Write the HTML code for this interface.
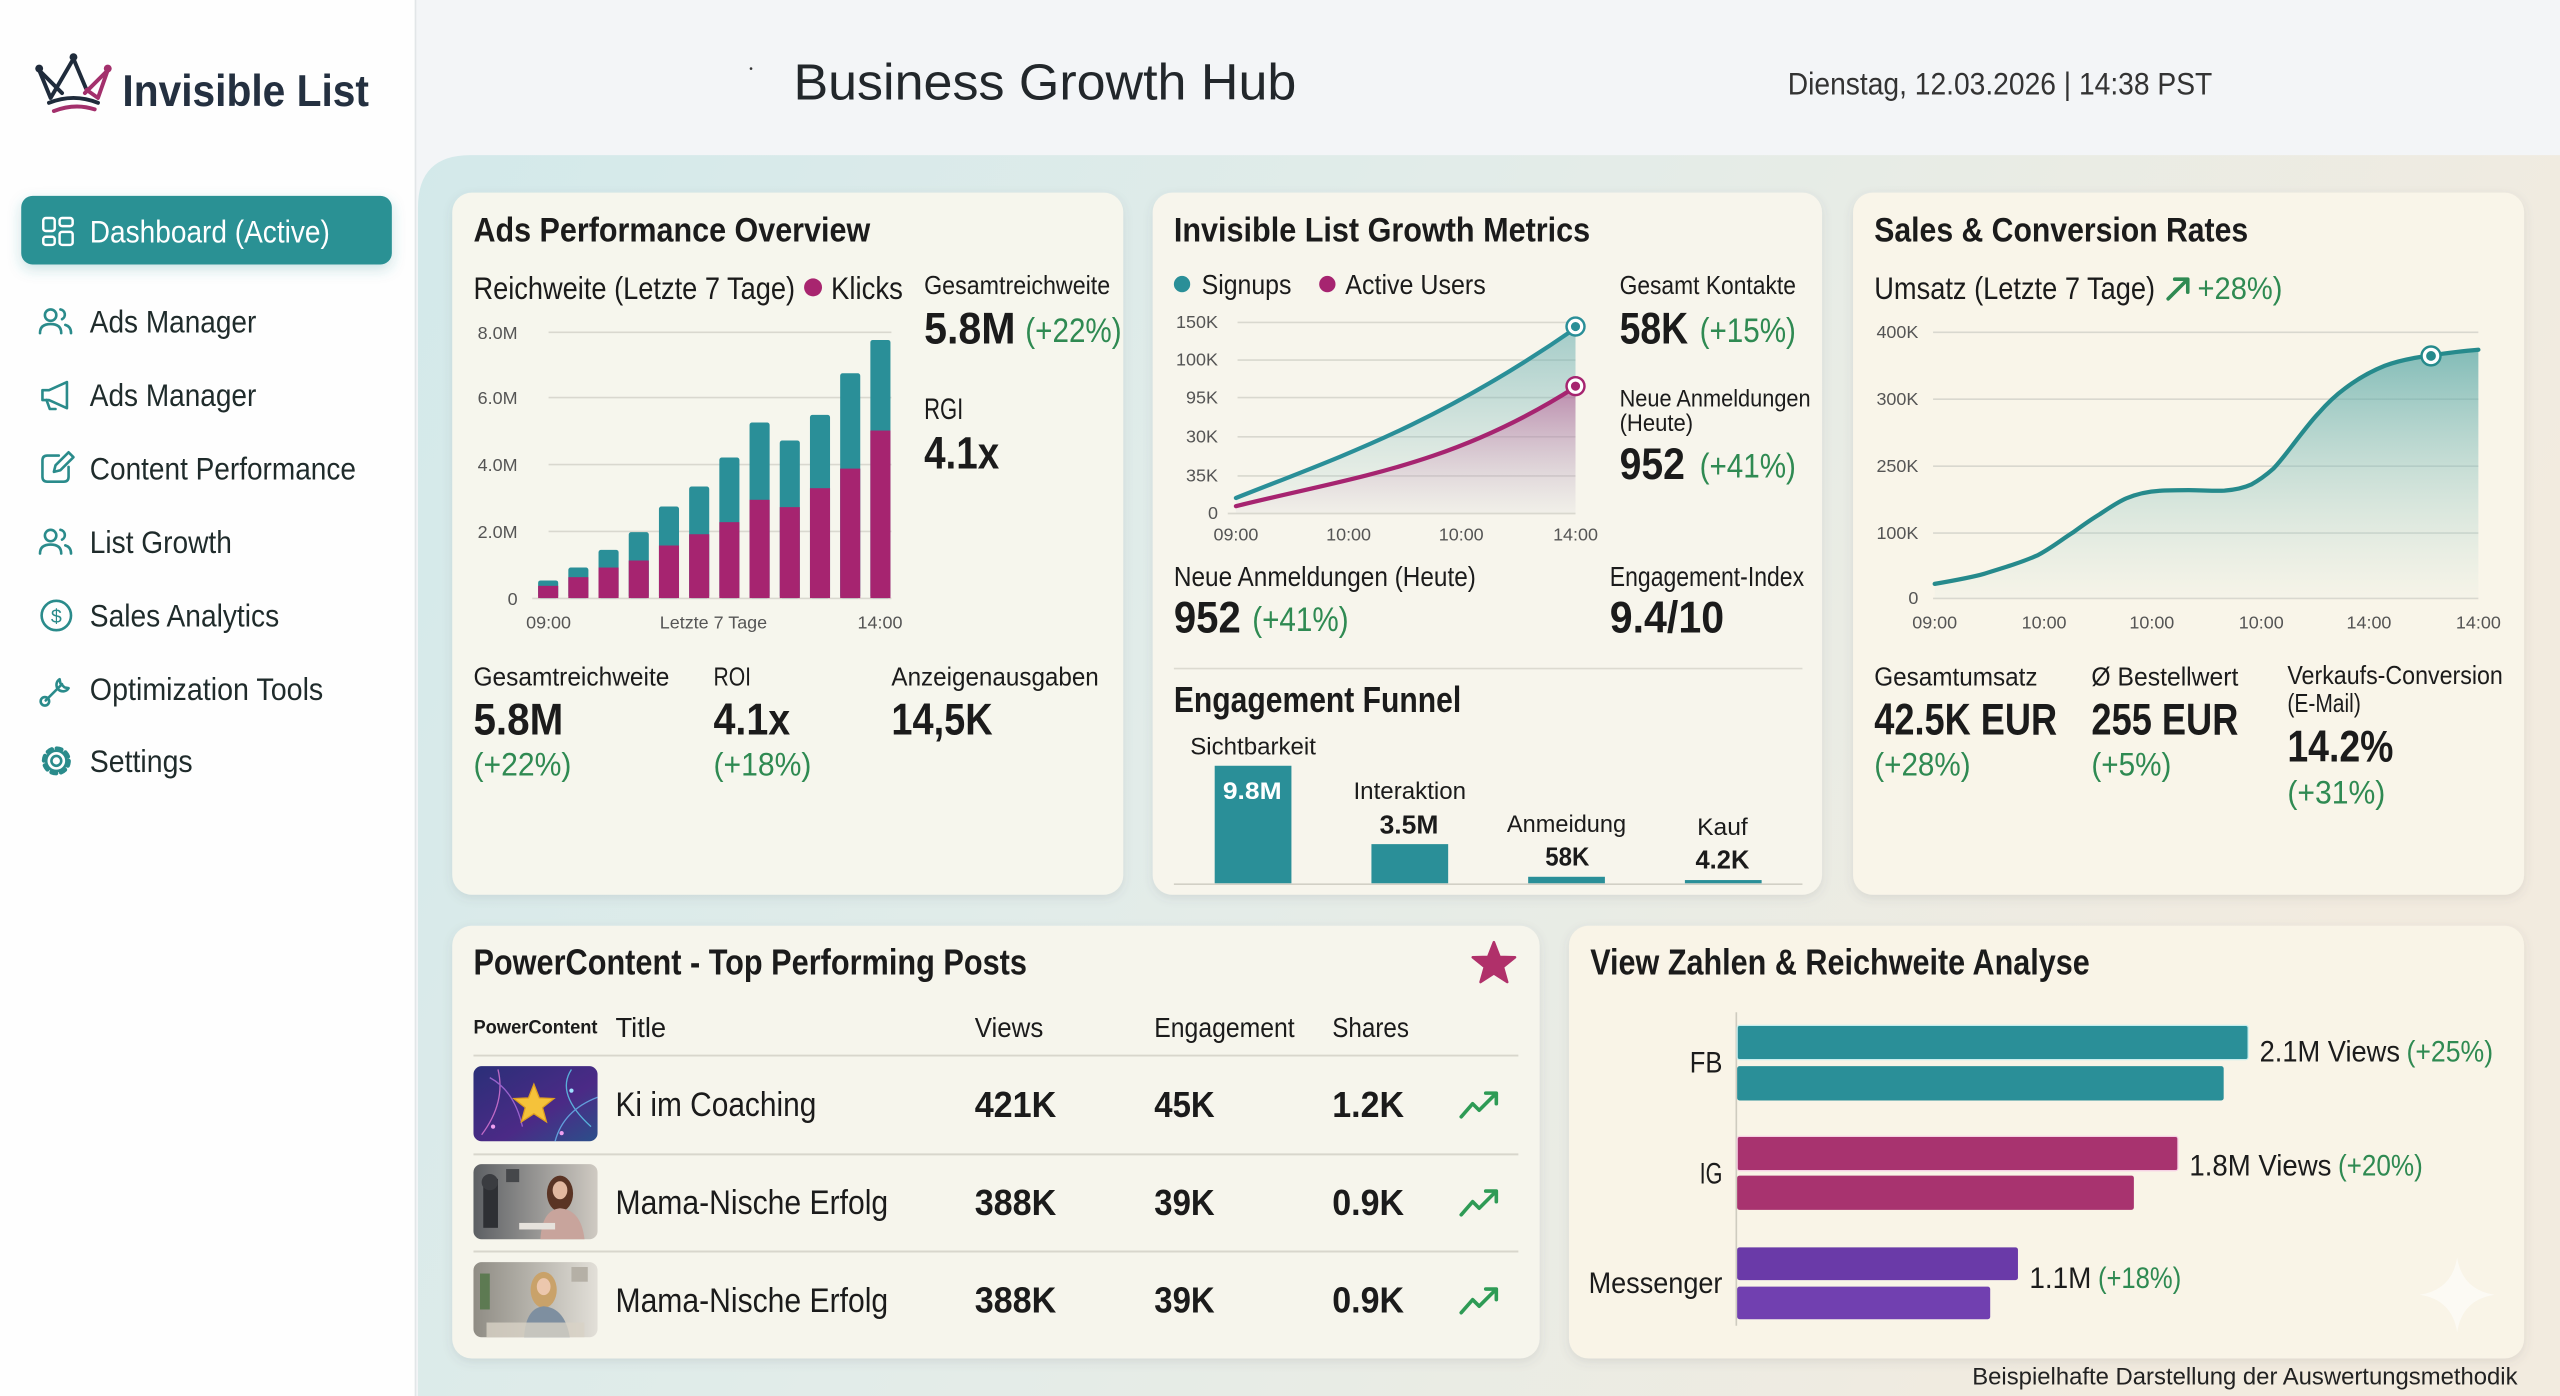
<!DOCTYPE html>
<html><head><meta charset="utf-8">
<style>
html,body{margin:0;padding:0;background:#f3f5f7;}
svg{display:block}
text{font-family:"Liberation Sans",Arial,sans-serif;fill:#1b1b1b}
.b{font-weight:700}
.g{fill:#2f8a52}
.ax{fill:#555;font-size:11px}
.nav{fill:#1f2b2b;font-size:19px}
.ic{fill:none;stroke:#2a8b8b;stroke-width:1.6;stroke-linecap:round;stroke-linejoin:round}
</style></head>
<body>
<svg width="2560" height="1396" viewBox="0 0 1568 855" preserveAspectRatio="none" xmlns="http://www.w3.org/2000/svg">
<defs>
<linearGradient id="panel" x1="0" y1="0" x2="1" y2="0.3">
<stop offset="0" stop-color="#d3e9ea"/><stop offset="0.45" stop-color="#e2ece9"/><stop offset="1" stop-color="#f2ebdf"/>
</linearGradient>
<linearGradient id="tealA" x1="0" y1="0" x2="0" y2="1">
<stop offset="0" stop-color="#5fa9aa" stop-opacity="0.55"/><stop offset="1" stop-color="#8cc4c4" stop-opacity="0.05"/>
</linearGradient>
<linearGradient id="magA" x1="0" y1="0" x2="0" y2="1">
<stop offset="0" stop-color="#b8498a" stop-opacity="0.55"/><stop offset="1" stop-color="#e0a8c8" stop-opacity="0.05"/>
</linearGradient>
<linearGradient id="salesA" x1="0" y1="0" x2="0" y2="1">
<stop offset="0" stop-color="#4fa3a2" stop-opacity="0.7"/><stop offset="1" stop-color="#a9d3cf" stop-opacity="0.05"/>
</linearGradient>
<linearGradient id="th1" x1="0" y1="0" x2="1" y2="1">
<stop offset="0" stop-color="#2a2f78"/><stop offset="0.6" stop-color="#4b2a86"/><stop offset="1" stop-color="#2b4f8a"/>
</linearGradient>
<linearGradient id="th2" x1="0" y1="0" x2="1" y2="0">
<stop offset="0" stop-color="#5c5f63"/><stop offset="1" stop-color="#cfcac2"/>
</linearGradient>
<linearGradient id="th3" x1="0" y1="0" x2="1" y2="0">
<stop offset="0" stop-color="#8f8c84"/><stop offset="1" stop-color="#e2dfd8"/>
</linearGradient>
<filter id="sh" x="-5%" y="-5%" width="110%" height="115%">
<feDropShadow dx="0" dy="2" stdDeviation="3" flood-color="#556" flood-opacity="0.13"/>
</filter>
<filter id="sh2" x="-10%" y="-20%" width="120%" height="160%">
<feDropShadow dx="0" dy="3" stdDeviation="4" flood-color="#2a8f98" flood-opacity="0.25"/>
</filter>
</defs>

<!-- backgrounds -->
<rect x="0" y="0" width="1568" height="855" fill="#f3f5f7"/>
<path d="M256,127 Q256,95 288,95 L1568,95 L1568,855 L256,855 Z" fill="url(#panel)"/>
<rect x="0" y="0" width="254" height="855" fill="#fefefe"/>
<line x1="254.5" y1="0" x2="254.5" y2="855" stroke="#e2e6e8" stroke-width="1"/>

<!-- logo -->
<g fill="none" stroke-linecap="round" stroke-linejoin="round" stroke-width="2.4">
<polyline points="24,43 31,60 45,36" stroke="#1f2b3b"/>
<polyline points="45,36 53,55" stroke="#1f2b3b"/>
<polyline points="53,55 60,60 66,43" stroke="#a3306c"/>
<polyline points="24,43 38,57" stroke="#1f2b3b"/>
<polyline points="52,57 66,43" stroke="#a3306c"/>
<path d="M30,63 Q45,57 60,63" stroke="#1f2b3b"/>
<path d="M33,68 Q46,63 58,67" stroke="#a3306c"/>
</g>
<circle cx="24" cy="42" r="2.4" fill="#1f2b3b"/>
<circle cx="45" cy="35" r="2.4" fill="#1f2b3b"/>
<circle cx="66" cy="42" r="2.4" fill="#a3306c"/>
<text x="75" y="65" font-size="27" class="b" fill="#243040" textLength="151" lengthAdjust="spacingAndGlyphs" style="fill:#243040">Invisible List</text>

<!-- nav -->
<rect x="13" y="120" width="227" height="42" rx="7" fill="#2a9194" filter="url(#sh2)"/>
<g fill="none" stroke="#ffffff" stroke-width="1.5">
<rect x="26.5" y="133.5" width="7" height="8" rx="1.5"/>
<rect x="26.5" y="145" width="7" height="5" rx="1.5"/>
<rect x="36.5" y="133.5" width="8" height="5" rx="1.5"/>
<rect x="36.5" y="142" width="8" height="8" rx="1.5"/>
</g>
<text x="55" y="148.5" font-size="19" textLength="147" lengthAdjust="spacingAndGlyphs" style="fill:#ffffff">Dashboard (Active)</text>

<g class="ic">
<circle cx="31" cy="193" r="3.5"/><path d="M24.5,204 Q24.5,198.5 31,198.5 Q37.5,198.5 37.5,204"/><path d="M37,189.5 A3.2,3.2 0 0 1 38,195.5"/><path d="M40,199 Q43.5,200 43.5,204"/>
<path d="M26,239 L26,245 L30,245 L41,250 L41,234 L30,239 Z"/><path d="M28.5,245 L30.5,250.5 L34,250.5"/>
<path d="M36,279 L29,279 Q26,279 26,282 L26,292 Q26,295 29,295 L39,295 Q42,295 42,292 L42,286"/><path d="M33,289 L34,285 L42,277 L45,280 L37,288 Z"/>
<circle cx="31" cy="328" r="3.5"/><path d="M24.5,339 Q24.5,333.5 31,333.5 Q37.5,333.5 37.5,339"/><path d="M37,324.5 A3.2,3.2 0 0 1 38,330.5"/><path d="M40,334 Q43.5,335 43.5,339"/>
<circle cx="34.5" cy="377" r="9"/>
<path d="M28,429 L38,419"/><path d="M36.5,416 A4,4 0 1 0 42,421.5 L39.5,421 L37,418.5 Z"/><circle cx="27.5" cy="429.5" r="2.6"/>
<circle cx="34.5" cy="466" r="3"/><circle cx="34.5" cy="466" r="7.6" stroke-width="2.6" stroke-dasharray="3 2.97"/><circle cx="34.5" cy="466" r="6.2"/>
</g>
<text x="34.5" y="381.5" font-size="12" text-anchor="middle" style="fill:#2a8b8b">$</text>
<text class="nav" x="55" y="203.8" textLength="102" lengthAdjust="spacingAndGlyphs">Ads Manager</text>
<text class="nav" x="55" y="248.8" textLength="102" lengthAdjust="spacingAndGlyphs">Ads Manager</text>
<text class="nav" x="55" y="293.8" textLength="163" lengthAdjust="spacingAndGlyphs">Content Performance</text>
<text class="nav" x="55" y="338.8" textLength="87" lengthAdjust="spacingAndGlyphs">List Growth</text>
<text class="nav" x="55" y="383.8" textLength="116" lengthAdjust="spacingAndGlyphs">Sales Analytics</text>
<text class="nav" x="55" y="428.8" textLength="143" lengthAdjust="spacingAndGlyphs">Optimization Tools</text>
<text class="nav" x="55" y="472.8" textLength="63" lengthAdjust="spacingAndGlyphs">Settings</text>

<!-- header -->
<circle cx="460" cy="42" r="0.8" fill="#333"/>
<text x="486" y="61" font-size="31" textLength="308" lengthAdjust="spacingAndGlyphs" style="fill:#22272b">Business Growth Hub</text>
<text x="1095" y="58" font-size="19" textLength="260" lengthAdjust="spacingAndGlyphs" style="fill:#333">Dienstag, 12.03.2026 | 14:38 PST</text>

<!-- cards -->
<g filter="url(#sh)">
<rect x="277" y="118" width="411" height="430" rx="12" fill="#f6f6ed"/>
<rect x="706" y="118" width="410" height="430" rx="12" fill="#f7f5ec"/>
<rect x="1135" y="118" width="411" height="430" rx="12" fill="#f9f5e9"/>
<rect x="277" y="567" width="666" height="265" rx="12" fill="#f6f5ec"/>
<rect x="961" y="567" width="585" height="265" rx="12" fill="#f9f4e7"/>
</g>

<!-- ===== Card 1 ===== -->
<text x="290" y="148" font-size="21" class="b" textLength="243" lengthAdjust="spacingAndGlyphs">Ads Performance Overview</text>
<text x="290" y="183" font-size="19" textLength="197" lengthAdjust="spacingAndGlyphs">Reichweite (Letzte 7 Tage)</text>
<circle cx="498" cy="176" r="5.5" fill="#a8256f"/>
<text x="509" y="183" font-size="19" textLength="44" lengthAdjust="spacingAndGlyphs">Klicks</text>
<text x="566" y="180" font-size="16" textLength="114" lengthAdjust="spacingAndGlyphs">Gesamtreichweite</text>
<text x="566" y="210.5" font-size="27" class="b" textLength="56" lengthAdjust="spacingAndGlyphs">5.8M</text>
<text x="628" y="209.5" font-size="21" class="g" textLength="59" lengthAdjust="spacingAndGlyphs">(+22%)</text>
<text x="566" y="256.5" font-size="18" textLength="24" lengthAdjust="spacingAndGlyphs">RGI</text>
<text x="566" y="287" font-size="28" class="b" textLength="46" lengthAdjust="spacingAndGlyphs">4.1x</text>

<g stroke="#d9d8cf" stroke-width="1">
<line x1="336" y1="203.5" x2="546" y2="203.5"/><line x1="336" y1="243.5" x2="546" y2="243.5"/><line x1="336" y1="284.5" x2="546" y2="284.5"/><line x1="336" y1="325.5" x2="546" y2="325.5"/><line x1="326" y1="366.5" x2="546" y2="366.5"/>
</g>
<g class="ax" text-anchor="end">
<text class="ax" x="317" y="207.5">8.0M</text><text class="ax" x="317" y="247.5">6.0M</text><text class="ax" x="317" y="288.5">4.0M</text><text class="ax" x="317" y="329.5">2.0M</text><text class="ax" x="317" y="370.5">0</text>
</g>
<g text-anchor="middle">
<text class="ax" x="336" y="385">09:00</text><text class="ax" x="437" y="385">Letzte 7 Tage</text><text class="ax" x="539" y="385">14:00</text>
</g>
<g>
<rect x="329.6" y="355.5" width="12.3" height="10.8" rx="1.5" fill="#2a8f98"/><rect x="329.6" y="358.8" width="12.3" height="7.5" fill="#a62470"/>
<rect x="348.1" y="347.6" width="12.3" height="18.7" rx="1.5" fill="#2a8f98"/><rect x="348.1" y="353.5" width="12.3" height="12.8" fill="#a62470"/>
<rect x="366.6" y="336.8" width="12.3" height="29.5" rx="1.5" fill="#2a8f98"/><rect x="366.6" y="347.6" width="12.3" height="18.7" fill="#a62470"/>
<rect x="385.1" y="325.9" width="12.3" height="40.4" rx="1.5" fill="#2a8f98"/><rect x="385.1" y="343.3" width="12.3" height="23" fill="#a62470"/>
<rect x="403.6" y="310.2" width="12.3" height="56.1" rx="1.5" fill="#2a8f98"/><rect x="403.6" y="334.1" width="12.3" height="32.2" fill="#a62470"/>
<rect x="422.1" y="298" width="12.3" height="68.3" rx="1.5" fill="#2a8f98"/><rect x="422.1" y="327.2" width="12.3" height="39.1" fill="#a62470"/>
<rect x="440.6" y="280.2" width="12.3" height="86.1" rx="1.5" fill="#2a8f98"/><rect x="440.6" y="319.8" width="12.3" height="46.5" fill="#a62470"/>
<rect x="459.1" y="258.8" width="12.3" height="107.5" rx="1.5" fill="#2a8f98"/><rect x="459.1" y="306.1" width="12.3" height="60.2" fill="#a62470"/>
<rect x="477.6" y="269.8" width="12.3" height="96.5" rx="1.5" fill="#2a8f98"/><rect x="477.6" y="310.6" width="12.3" height="55.7" fill="#a62470"/>
<rect x="496.1" y="254.1" width="12.3" height="112.2" rx="1.5" fill="#2a8f98"/><rect x="496.1" y="299" width="12.3" height="67.3" fill="#a62470"/>
<rect x="514.6" y="228.6" width="12.3" height="137.7" rx="1.5" fill="#2a8f98"/><rect x="514.6" y="287" width="12.3" height="79.3" fill="#a62470"/>
<rect x="533.1" y="208.2" width="12.3" height="158.1" rx="1.5" fill="#2a8f98"/><rect x="533.1" y="263.7" width="12.3" height="102.6" fill="#a62470"/>
</g>

<text x="290" y="420" font-size="16" textLength="120" lengthAdjust="spacingAndGlyphs">Gesamtreichweite</text>
<text x="437" y="420" font-size="16" textLength="23" lengthAdjust="spacingAndGlyphs">ROI</text>
<text x="546" y="420" font-size="16" textLength="127" lengthAdjust="spacingAndGlyphs">Anzeigenausgaben</text>
<text x="290" y="450" font-size="27" class="b" textLength="55" lengthAdjust="spacingAndGlyphs">5.8M</text>
<text x="437" y="450" font-size="27" class="b" textLength="47" lengthAdjust="spacingAndGlyphs">4.1x</text>
<text x="546" y="450" font-size="27" class="b" textLength="62" lengthAdjust="spacingAndGlyphs">14,5K</text>
<text x="290" y="475" font-size="20" class="g" textLength="60" lengthAdjust="spacingAndGlyphs">(+22%)</text>
<text x="437" y="475" font-size="20" class="g" textLength="60" lengthAdjust="spacingAndGlyphs">(+18%)</text>

<!-- ===== Card 2 ===== -->
<text x="719" y="148" font-size="21" class="b" textLength="255" lengthAdjust="spacingAndGlyphs">Invisible List Growth Metrics</text>
<circle cx="724" cy="174" r="5" fill="#2a8f98"/>
<text x="736" y="180" font-size="17" textLength="55" lengthAdjust="spacingAndGlyphs">Signups</text>
<circle cx="813" cy="174" r="5" fill="#a62470"/>
<text x="824" y="180" font-size="17" textLength="86" lengthAdjust="spacingAndGlyphs">Active Users</text>
<g stroke="#d9d8cf" stroke-width="1">
<line x1="758" y1="197.5" x2="965" y2="197.5"/><line x1="758" y1="220.5" x2="965" y2="220.5"/><line x1="758" y1="243.5" x2="965" y2="243.5"/><line x1="758" y1="267.5" x2="965" y2="267.5"/><line x1="758" y1="291.5" x2="965" y2="291.5"/><line x1="752" y1="314.5" x2="965" y2="314.5"/>
</g>
<g text-anchor="end">
<text class="ax" x="746" y="201">150K</text><text class="ax" x="746" y="224">100K</text><text class="ax" x="746" y="247">95K</text><text class="ax" x="746" y="271">30K</text><text class="ax" x="746" y="295">35K</text><text class="ax" x="746" y="318">0</text>
</g>
<g text-anchor="middle">
<text class="ax" x="757" y="331">09:00</text><text class="ax" x="826" y="331">10:00</text><text class="ax" x="895" y="331">10:00</text><text class="ax" x="965" y="331">14:00</text>
</g>
<path d="M757,305 C820,280 880,260 965,201 L965,314 L757,314 Z" fill="url(#tealA)"/>
<path d="M757,310 C830,292 890,285 965,237 L965,314 L757,314 Z" fill="url(#magA)"/>
<path d="M757,305 C820,280 880,260 965,201" fill="none" stroke="#2a8f98" stroke-width="2.6" stroke-linecap="round"/>
<path d="M757,310 C830,292 890,285 965,237" fill="none" stroke="#a62470" stroke-width="2.6" stroke-linecap="round"/>
<circle cx="965" cy="200" r="5.5" fill="#fff" stroke="#2a8f98" stroke-width="1.5"/><circle cx="965" cy="200" r="2.8" fill="#2a8f98"/>
<circle cx="965" cy="236.5" r="5.5" fill="#fff" stroke="#a62470" stroke-width="1.5"/><circle cx="965" cy="236.5" r="2.8" fill="#a62470"/>

<text x="992" y="180" font-size="16" textLength="108" lengthAdjust="spacingAndGlyphs">Gesamt Kontakte</text>
<text x="992" y="210.5" font-size="27" class="b" textLength="42" lengthAdjust="spacingAndGlyphs">58K</text>
<text x="1041" y="209.5" font-size="21" class="g" textLength="59" lengthAdjust="spacingAndGlyphs">(+15%)</text>
<text x="992" y="249" font-size="15" textLength="117" lengthAdjust="spacingAndGlyphs">Neue Anmeldungen</text>
<text x="992" y="264" font-size="15" textLength="45" lengthAdjust="spacingAndGlyphs">(Heute)</text>
<text x="992" y="293.5" font-size="27" class="b" textLength="40" lengthAdjust="spacingAndGlyphs">952</text>
<text x="1041" y="292.5" font-size="21" class="g" textLength="59" lengthAdjust="spacingAndGlyphs">(+41%)</text>

<text x="719" y="359" font-size="17" textLength="185" lengthAdjust="spacingAndGlyphs">Neue Anmeldungen (Heute)</text>
<text x="719" y="387.5" font-size="27" class="b" textLength="41" lengthAdjust="spacingAndGlyphs">952</text>
<text x="767" y="386.5" font-size="21" class="g" textLength="59" lengthAdjust="spacingAndGlyphs">(+41%)</text>
<text x="986" y="359" font-size="17" textLength="119" lengthAdjust="spacingAndGlyphs">Engagement-Index</text>
<text x="986" y="387.5" font-size="27" class="b" textLength="70" lengthAdjust="spacingAndGlyphs">9.4/10</text>
<line x1="719" y1="409.5" x2="1104" y2="409.5" stroke="#dcdad0" stroke-width="1"/>
<text x="719" y="436" font-size="22" class="b" textLength="176" lengthAdjust="spacingAndGlyphs">Engagement Funnel</text>

<text x="729" y="462" font-size="15" textLength="77" lengthAdjust="spacingAndGlyphs">Sichtbarkeit</text>
<rect x="744" y="469" width="47" height="72" fill="#2a8f98"/>
<text x="767" y="489.5" font-size="15" class="b" text-anchor="middle" textLength="36" lengthAdjust="spacingAndGlyphs" style="fill:#fff">9.8M</text>
<text x="829" y="489.5" font-size="15" textLength="69" lengthAdjust="spacingAndGlyphs">Interaktion</text>
<text x="863" y="510.5" font-size="16" class="b" text-anchor="middle" textLength="36" lengthAdjust="spacingAndGlyphs">3.5M</text>
<rect x="840" y="517" width="47" height="24" fill="#2a8f98"/>
<text x="923" y="509.5" font-size="15" textLength="73" lengthAdjust="spacingAndGlyphs">Anmeidung</text>
<text x="960" y="530" font-size="16" class="b" text-anchor="middle" textLength="27" lengthAdjust="spacingAndGlyphs">58K</text>
<rect x="936" y="537" width="47" height="4" fill="#2a8f98"/>
<text x="1055" y="511.5" font-size="15" text-anchor="middle" textLength="31" lengthAdjust="spacingAndGlyphs">Kauf</text>
<text x="1055" y="532" font-size="16" class="b" text-anchor="middle" textLength="33" lengthAdjust="spacingAndGlyphs">4.2K</text>
<rect x="1032" y="539" width="47" height="2" fill="#2a8f98"/>
<line x1="719" y1="541.5" x2="1104" y2="541.5" stroke="#d2d0c6" stroke-width="1"/>

<!-- ===== Card 3 ===== -->
<text x="1148" y="148" font-size="21" class="b" textLength="229" lengthAdjust="spacingAndGlyphs">Sales &amp; Conversion Rates</text>
<text x="1148" y="183" font-size="19" textLength="172" lengthAdjust="spacingAndGlyphs">Umsatz (Letzte 7 Tage)</text>
<g stroke="#2f8a52" stroke-width="2.2" fill="none" stroke-linecap="round" stroke-linejoin="round">
<path d="M1328,183 L1339,172"/><path d="M1332,171 L1340,171 L1340,179"/>
</g>
<text x="1346" y="183" font-size="19" class="g" textLength="52" lengthAdjust="spacingAndGlyphs">+28%)</text>
<g stroke="#d9d8cf" stroke-width="1">
<line x1="1184" y1="203.5" x2="1518" y2="203.5"/><line x1="1184" y1="244.5" x2="1518" y2="244.5"/><line x1="1184" y1="285.5" x2="1518" y2="285.5"/><line x1="1184" y1="326.5" x2="1518" y2="326.5"/><line x1="1184" y1="366.5" x2="1518" y2="366.5"/>
</g>
<g text-anchor="end">
<text class="ax" x="1175" y="207">400K</text><text class="ax" x="1175" y="248">300K</text><text class="ax" x="1175" y="289">250K</text><text class="ax" x="1175" y="330">100K</text><text class="ax" x="1175" y="370">0</text>
</g>
<g text-anchor="middle">
<text class="ax" x="1185" y="385">09:00</text><text class="ax" x="1252" y="385">10:00</text><text class="ax" x="1318" y="385">10:00</text><text class="ax" x="1385" y="385">10:00</text><text class="ax" x="1451" y="385">14:00</text><text class="ax" x="1518" y="385">14:00</text>
</g>
<path d="M1185,357.6 C1200,355 1208,353.5 1215,351.5 C1228,347.5 1238,344.5 1247.8,340.2 C1256,336 1262,331 1269.6,326.2 C1276,321.5 1281,318 1286,315 C1292,311 1297,307.5 1302.4,305.2 C1310,302 1317,300.8 1324.2,300.5 C1330,300.2 1336,300.2 1340.6,300.2 C1348,300.2 1356,300.8 1362.5,300.5 C1369,300 1374,299 1378.8,296.8 C1384,294 1388,291 1392.5,287 C1398,281 1402,275.5 1406.1,270.2 C1411,264 1415,258.5 1419.8,253.4 C1425,247.5 1430,242.5 1436.2,238 C1444,232 1452,227.5 1460.7,224 C1470,220.5 1479,219 1488,217.8 C1498,216.3 1508,215 1518,214.2 L1518,366 L1185,366 Z" fill="url(#salesA)"/>
<path d="M1185,357.6 C1200,355 1208,353.5 1215,351.5 C1228,347.5 1238,344.5 1247.8,340.2 C1256,336 1262,331 1269.6,326.2 C1276,321.5 1281,318 1286,315 C1292,311 1297,307.5 1302.4,305.2 C1310,302 1317,300.8 1324.2,300.5 C1330,300.2 1336,300.2 1340.6,300.2 C1348,300.2 1356,300.8 1362.5,300.5 C1369,300 1374,299 1378.8,296.8 C1384,294 1388,291 1392.5,287 C1398,281 1402,275.5 1406.1,270.2 C1411,264 1415,258.5 1419.8,253.4 C1425,247.5 1430,242.5 1436.2,238 C1444,232 1452,227.5 1460.7,224 C1470,220.5 1479,219 1488,217.8 C1498,216.3 1508,215 1518,214.2" fill="none" stroke="#268a8c" stroke-width="2.6" stroke-linecap="round"/>
<circle cx="1489" cy="218" r="5.8" fill="#fff" stroke="#268a8c" stroke-width="1.5"/><circle cx="1489" cy="218" r="3" fill="#268a8c"/>

<text x="1148" y="420" font-size="16" textLength="100" lengthAdjust="spacingAndGlyphs">Gesamtumsatz</text>
<text x="1281" y="420" font-size="16" textLength="90" lengthAdjust="spacingAndGlyphs">Ø Bestellwert</text>
<text x="1401" y="419" font-size="16" textLength="132" lengthAdjust="spacingAndGlyphs">Verkaufs-Conversion</text>
<text x="1401" y="436" font-size="16" textLength="45" lengthAdjust="spacingAndGlyphs">(E-Mail)</text>
<text x="1148" y="450" font-size="27" class="b" textLength="112" lengthAdjust="spacingAndGlyphs">42.5K EUR</text>
<text x="1281" y="450" font-size="27" class="b" textLength="90" lengthAdjust="spacingAndGlyphs">255 EUR</text>
<text x="1401" y="466.5" font-size="27" class="b" textLength="65" lengthAdjust="spacingAndGlyphs">14.2%</text>
<text x="1148" y="475" font-size="20" class="g" textLength="59" lengthAdjust="spacingAndGlyphs">(+28%)</text>
<text x="1281" y="475" font-size="20" class="g" textLength="49" lengthAdjust="spacingAndGlyphs">(+5%)</text>
<text x="1401" y="492" font-size="20" class="g" textLength="60" lengthAdjust="spacingAndGlyphs">(+31%)</text>

<!-- ===== Card 4 ===== -->
<text x="290" y="597" font-size="22" class="b" textLength="339" lengthAdjust="spacingAndGlyphs">PowerContent - Top Performing Posts</text>
<path d="M915,577 L918.5,586 L928,586.3 L920.6,592.3 L923.2,601.5 L915,596.2 L906.8,601.5 L909.4,592.3 L902,586.3 L911.5,586 Z" fill="#b0306a" stroke="#b0306a" stroke-width="1.5" stroke-linejoin="round"/>
<text x="290" y="633" font-size="12" class="b" textLength="76" lengthAdjust="spacingAndGlyphs">PowerContent</text>
<text x="377" y="635" font-size="17" textLength="31" lengthAdjust="spacingAndGlyphs">Title</text>
<text x="597" y="635" font-size="17" textLength="42" lengthAdjust="spacingAndGlyphs">Views</text>
<text x="707" y="635" font-size="17" textLength="86" lengthAdjust="spacingAndGlyphs">Engagement</text>
<text x="816" y="635" font-size="17" textLength="47" lengthAdjust="spacingAndGlyphs">Shares</text>
<g stroke="#d8d6cc" stroke-width="1.2">
<line x1="290" y1="646.5" x2="930" y2="646.5"/><line x1="290" y1="707" x2="930" y2="707"/><line x1="290" y1="766.5" x2="930" y2="766.5"/>
</g>
<!-- thumbs -->
<rect x="290" y="653" width="76" height="46" rx="5" fill="url(#th1)"/>
<g stroke-width="0.8" fill="none" opacity="0.8">
<path d="M295,695 Q310,675 305,655" stroke="#e07ad8"/><path d="M350,655 Q340,670 362,690" stroke="#5fd0f0"/><path d="M340,699 Q345,680 366,672" stroke="#6ab8f0"/><path d="M300,660 Q315,668 320,690" stroke="#b070e0"/>
</g>
<circle cx="302" cy="690" r="1.3" fill="#f0a0f0"/><circle cx="350" cy="668" r="1.3" fill="#a0e0ff"/><circle cx="344" cy="694" r="1.3" fill="#f0a0f0"/>
<path d="M327,664 L330.3,672.4 L339.3,672.8 L332.3,678.4 L334.7,687.1 L327,682.1 L319.3,687.1 L321.7,678.4 L314.7,672.8 L323.7,672.4 Z" fill="#f5c23a" stroke="#e0a020" stroke-width="0.8"/>

<rect x="290" y="713" width="76" height="46" rx="5" fill="url(#th2)"/>
<rect x="296" y="722" width="9" height="30" fill="#2e3034"/><circle cx="300" cy="724" r="5" fill="#3a3c40"/>
<rect x="310" y="716" width="8" height="8" fill="#45474a"/>
<ellipse cx="343" cy="731" rx="8" ry="11" fill="#5a3424"/>
<ellipse cx="343" cy="729" rx="4.5" ry="5.5" fill="#e2b8a0"/>
<path d="M331,759 Q332,741 343,740 Q356,741 358,759 Z" fill="#c8a49c"/>
<rect x="318" y="749" width="22" height="4" fill="#e6e2dc"/>

<rect x="290" y="773" width="76" height="46" rx="5" fill="url(#th3)"/>
<rect x="294" y="780" width="6" height="22" fill="#5d7a52"/>
<rect x="350" y="776" width="10" height="9" fill="#b5b0a6"/>
<ellipse cx="333" cy="790" rx="8" ry="11" fill="#c9a26a"/>
<ellipse cx="333" cy="788" rx="4.2" ry="5.2" fill="#ecc7ad"/>
<path d="M321,819 Q322,801 333,800 Q346,801 349,819 Z" fill="#7e8fa0"/>
<rect x="298" y="810" width="60" height="9" fill="#d8d2c6" opacity="0.8"/>

<g font-size="21">
<text x="377" y="683.5" font-size="21" textLength="123" lengthAdjust="spacingAndGlyphs">Ki im Coaching</text>
<text x="597" y="684" font-size="22" class="b" textLength="50" lengthAdjust="spacingAndGlyphs">421K</text>
<text x="707" y="684" font-size="22" class="b" textLength="37" lengthAdjust="spacingAndGlyphs">45K</text>
<text x="816" y="684" font-size="22" class="b" textLength="44" lengthAdjust="spacingAndGlyphs">1.2K</text>
<text x="377" y="743.5" font-size="21" textLength="167" lengthAdjust="spacingAndGlyphs">Mama-Nische Erfolg</text>
<text x="597" y="744" font-size="22" class="b" textLength="50" lengthAdjust="spacingAndGlyphs">388K</text>
<text x="707" y="744" font-size="22" class="b" textLength="37" lengthAdjust="spacingAndGlyphs">39K</text>
<text x="816" y="744" font-size="22" class="b" textLength="44" lengthAdjust="spacingAndGlyphs">0.9K</text>
<text x="377" y="803.5" font-size="21" textLength="167" lengthAdjust="spacingAndGlyphs">Mama-Nische Erfolg</text>
<text x="597" y="804" font-size="22" class="b" textLength="50" lengthAdjust="spacingAndGlyphs">388K</text>
<text x="707" y="804" font-size="22" class="b" textLength="37" lengthAdjust="spacingAndGlyphs">39K</text>
<text x="816" y="804" font-size="22" class="b" textLength="44" lengthAdjust="spacingAndGlyphs">0.9K</text>
</g>
<g stroke="#2e9b55" stroke-width="2.2" fill="none" stroke-linecap="round" stroke-linejoin="round">
<path d="M895,684 L902,676 L906,680 L916,670"/><path d="M910,669.5 L916.5,669.5 L916.5,676"/>
<path d="M895,744 L902,736 L906,740 L916,730"/><path d="M910,729.5 L916.5,729.5 L916.5,736"/>
<path d="M895,804 L902,796 L906,800 L916,790"/><path d="M910,789.5 L916.5,789.5 L916.5,796"/>
</g>

<!-- ===== Card 5 ===== -->
<text x="974" y="597" font-size="22" class="b" textLength="306" lengthAdjust="spacingAndGlyphs">View Zahlen &amp; Reichweite Analyse</text>
<line x1="1063.5" y1="620" x2="1063.5" y2="812" stroke="#cfcbbf" stroke-width="1"/>
<text x="1055" y="657" font-size="18" text-anchor="end" textLength="20" lengthAdjust="spacingAndGlyphs">FB</text>
<text x="1055" y="725" font-size="18" text-anchor="end" textLength="14" lengthAdjust="spacingAndGlyphs">IG</text>
<text x="1055" y="792" font-size="18" text-anchor="end" textLength="82" lengthAdjust="spacingAndGlyphs">Messenger</text>
<rect x="1064" y="628" width="313" height="21" rx="1.5" fill="#2a8f98" stroke="#c8eeee" stroke-width="0.8"/>
<rect x="1064" y="653" width="298" height="21" rx="1.5" fill="#2a8f98"/>
<rect x="1064" y="696" width="270" height="21" rx="1.5" fill="#a8336f" stroke="#f6d0e4" stroke-width="0.8"/>
<rect x="1064" y="720" width="243" height="21" rx="1.5" fill="#a8336f"/>
<rect x="1064" y="764" width="172" height="20" rx="1.5" fill="#6a3aa8"/>
<rect x="1064" y="788" width="155" height="20" rx="1.5" fill="#7140b0"/>
<text x="1384" y="650" font-size="18" textLength="86" lengthAdjust="spacingAndGlyphs">2.1M Views</text>
<text x="1474" y="650" font-size="18" class="g" textLength="53" lengthAdjust="spacingAndGlyphs">(+25%)</text>
<text x="1341" y="720" font-size="18" textLength="87" lengthAdjust="spacingAndGlyphs">1.8M Views</text>
<text x="1432" y="720" font-size="18" class="g" textLength="52" lengthAdjust="spacingAndGlyphs">(+20%)</text>
<text x="1243" y="789" font-size="18" textLength="38" lengthAdjust="spacingAndGlyphs">1.1M</text>
<text x="1285" y="789" font-size="18" class="g" textLength="51" lengthAdjust="spacingAndGlyphs">(+18%)</text>
<path d="M1505,770 Q1508,790 1528,793 Q1508,796 1505,816 Q1502,796 1482,793 Q1502,790 1505,770 Z" fill="#ffffff" opacity="0.55"/>

<text x="1542" y="848" font-size="15" text-anchor="end" textLength="334" lengthAdjust="spacingAndGlyphs" style="fill:#222">Beispielhafte Darstellung der Auswertungsmethodik</text>
</svg>
</body></html>
